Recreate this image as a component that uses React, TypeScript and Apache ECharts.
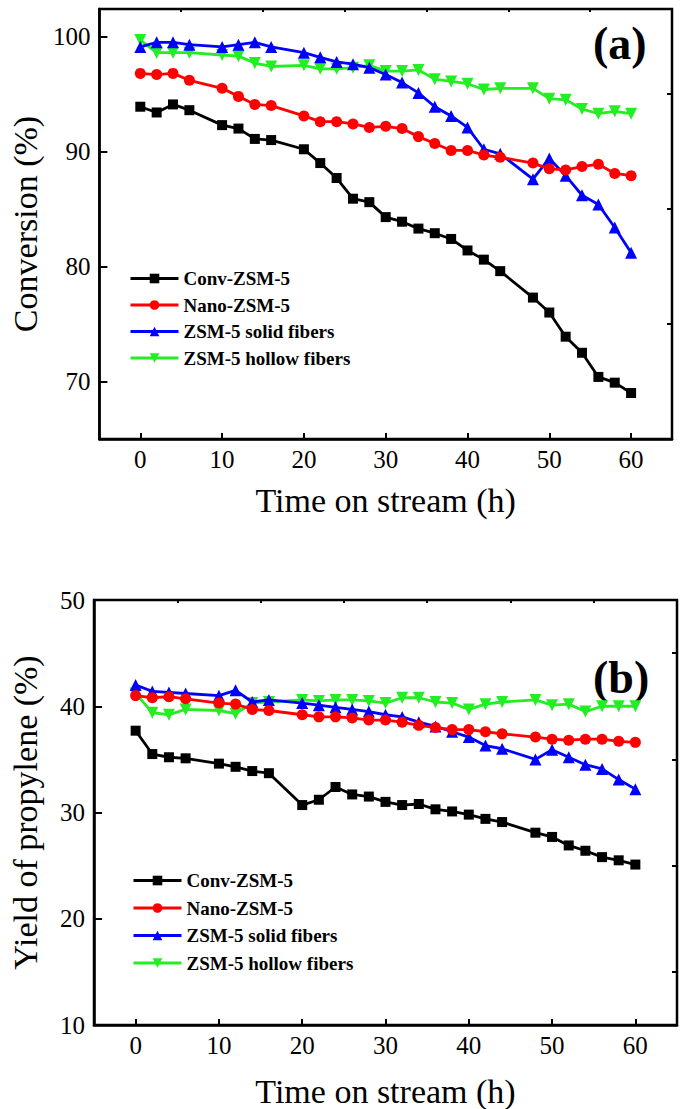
import React, { useEffect, useRef } from "react";
import * as echarts from "echarts";

const names = ["Conv-ZSM-5", "Nano-ZSM-5", "ZSM-5 solid fibers", "ZSM-5 hollow fibers"];
const time = [0, 2, 4, 6, 10, 12, 14, 16, 20, 22, 24, 26, 28, 30, 32, 34, 36, 38, 40, 42, 44, 48, 50, 52, 54, 56, 58, 60];

// (a) Conversion (%)
const convConv = [93.9, 93.4, 94.1, 93.6, 92.3, 92.0, 91.1, 91.0, 90.2, 89.0, 87.7, 85.9, 85.6, 84.3, 83.9, 83.3, 82.9, 82.4, 81.4, 80.6, 79.6, 77.3, 76.0, 73.9, 72.5, 70.4, 69.9, 69.0];
const convNano = [96.8, 96.7, 96.8, 96.2, 95.5, 94.8, 94.1, 94.0, 93.1, 92.6, 92.6, 92.4, 92.1, 92.2, 92.0, 91.3, 90.7, 90.1, 90.1, 89.7, 89.5, 89.0, 88.5, 88.4, 88.7, 88.9, 88.1, 87.9];
const convSolid = [99.1, 99.5, 99.5, 99.3, 99.1, 99.3, 99.5, 99.1, 98.6, 98.2, 97.8, 97.6, 97.3, 96.7, 96.0, 95.1, 93.9, 93.1, 92.1, 90.2, 89.8, 87.6, 89.4, 87.9, 86.2, 85.4, 83.4, 81.2];
const convHollow = [99.7, 98.6, 98.6, 98.6, 98.4, 98.3, 97.7, 97.4, 97.5, 97.2, 97.2, 97.3, 97.5, 97.0, 97.0, 97.1, 96.3, 96.1, 95.9, 95.4, 95.5, 95.5, 94.6, 94.5, 93.7, 93.3, 93.5, 93.3];

// (b) Yield of propylene (%)
const yieldConv = [37.7, 35.5, 35.2, 35.1, 34.6, 34.3, 33.9, 33.7, 30.7, 31.2, 32.4, 31.7, 31.5, 31.0, 30.7, 30.8, 30.3, 30.1, 29.8, 29.4, 29.1, 28.1, 27.7, 26.9, 26.4, 25.8, 25.5, 25.1];
const yieldNano = [41.0, 40.8, 40.9, 40.7, 40.3, 40.2, 39.7, 39.6, 39.2, 39.0, 39.0, 38.9, 38.7, 38.7, 38.5, 38.2, 38.0, 37.8, 37.8, 37.6, 37.4, 37.1, 36.9, 36.8, 36.9, 36.9, 36.7, 36.6];
const yieldSolid = [42.0, 41.4, 41.3, 41.2, 41.0, 41.5, 40.4, 40.6, 40.3, 40.1, 39.9, 39.7, 39.5, 39.2, 39.0, 38.5, 38.1, 37.6, 37.1, 36.3, 36.0, 35.0, 35.9, 35.2, 34.5, 34.1, 33.1, 32.2];
const yieldHollow = [41.2, 39.4, 39.2, 39.7, 39.6, 39.3, 40.3, 40.4, 40.6, 40.5, 40.6, 40.6, 40.5, 40.3, 40.8, 40.8, 40.4, 40.3, 39.7, 40.2, 40.4, 40.6, 40.1, 40.2, 39.5, 40.0, 40.0, 40.0];

const xMajor = [0, 10, 20, 30, 40, 50, 60];
const xMinor = [5, 15, 25, 35, 45, 55];
const yMajorA = [70, 80, 90, 100];
const yMinorA = [75, 85, 95];
const yMajorB = [10, 20, 30, 40, 50];
const yMinorB = [15, 25, 35, 45];

const colors = ["#000000", "#ff0000", "#0000ff", "#22ee22"];
const symbols = ["rect", "circle", "triangle", "triangle"];
const symbolSizes = [10, 11, 12, 12];
const rotates = [0, 0, 0, 180];

const FONT = "Liberation Serif";

function App() {
  const ref = useRef<HTMLDivElement>(null);
  useEffect(() => {
    if (!ref.current) return;
    const chart = echarts.init(ref.current, null, { renderer: "svg" });

    const grids = [
      { left: 92, top: 9, width: 580, height: 430 },
      { left: 94, top: 600, width: 583, height: 425 },
    ];

    const labelStyle = { fontFamily: FONT, fontSize: 25, color: "#000" };
    const nameStyle = { fontFamily: FONT, fontSize: 34, color: "#000" };

    const makeX = (gi: number, nameGap: number) => [
      {
        type: "value",
        gridIndex: gi,
        min: -5,
        max: 65,
        name: "Time on stream (h)",
        nameLocation: "middle",
        nameGap,
        nameTextStyle: nameStyle,
        axisLine: { show: true, onZero: false, lineStyle: { color: "#000", width: 2.5 } },
        axisTick: { show: true, inside: true, length: 6, customValues: xMajor, lineStyle: { color: "#000", width: 2 } },
        axisLabel: { ...labelStyle, margin: 8, customValues: xMajor },
        splitLine: { show: false },
      },
      {
        type: "value",
        gridIndex: gi,
        min: -5,
        max: 65,
        axisLine: { show: false, onZero: false },
        axisTick: { show: true, inside: true, length: 3, customValues: xMinor, lineStyle: { color: "#000", width: 2 } },
        axisLabel: { show: false },
        splitLine: { show: false },
      },
    ];
    const makeY = (gi: number, name: string, min: number, max: number, major: number[], minor: number[], nameGap: number) => [
      {
        type: "value",
        gridIndex: gi,
        min,
        max,
        name,
        nameLocation: "middle",
        nameGap,
        nameTextStyle: nameStyle,
        axisLine: { show: true, onZero: false, lineStyle: { color: "#000", width: 2.5 } },
        axisTick: { show: true, inside: true, length: 8, customValues: major, lineStyle: { color: "#000", width: 2 } },
        axisLabel: { ...labelStyle, margin: 9, customValues: major },
        splitLine: { show: false },
      },
      {
        type: "value",
        gridIndex: gi,
        min,
        max,
        axisLine: { show: false, onZero: false },
        axisTick: { show: true, inside: true, length: 5, customValues: minor, lineStyle: { color: "#000", width: 2 } },
        axisLabel: { show: false },
        splitLine: { show: false },
      },
    ];

    const dataA = [convConv, convNano, convSolid, convHollow];
    const dataB = [yieldConv, yieldNano, yieldSolid, yieldHollow];

    const series: any[] = [];
    [dataA, dataB].forEach((set, gi) => {
      set.forEach((vals, i) => {
        series.push({
          type: "line",
          name: names[i],
          xAxisIndex: gi * 2,
          yAxisIndex: gi * 2,
          data: time.map((t, k) => [t, vals[k]]),
          symbol: symbols[i],
          symbolSize: symbolSizes[i],
          symbolRotate: rotates[i],
          showAllSymbol: true,
          itemStyle: { color: colors[i] },
          lineStyle: { color: colors[i], width: 2.8 },
          z: 10 - i,
        });
      });
    });

    const legendBase = {
      orient: "vertical",
      itemWidth: 48,
      itemHeight: 12,
      padding: 0,
      selectedMode: false,
      textStyle: { fontFamily: FONT, fontSize: 19, fontWeight: "bold", color: "#000" },
    };
    const legendData = names.map((n, i) => ({ name: n, itemStyle: { color: colors[i] }, lineStyle: { color: colors[i], width: 3 } }));

    chart.setOption({
      animation: false,
      backgroundColor: "#fff",
      grid: grids.map((g) => ({ ...g, show: true, borderColor: "#000", borderWidth: 2.5, backgroundColor: "transparent" })),
      xAxis: [...makeX(0, 44), ...makeX(1, 49)],
      yAxis: [
        ...makeY(0, "Conversion (%)", 65, 102.4, yMajorA, yMinorA, 53),
        ...makeY(1, "Yield of propylene (%)", 10, 50, yMajorB, yMinorB, 52),
      ],
      legend: [
        { ...legendBase, left: 129, top: 269, itemGap: 7.5, data: legendData },
        { ...legendBase, left: 132, top: 871, itemGap: 8.5, data: legendData },
      ],
      graphic: [
        { type: "text", left: 593, top: 20, style: { text: "(a)", font: `bold 46px '${FONT}'`, fill: "#000" } },
        { type: "text", left: 593, top: 654, style: { text: "(b)", font: `bold 46px '${FONT}'`, fill: "#000" } },
      ],
      series,
    });
    return () => chart.dispose();
  }, []);
  return <div ref={ref} style={{ position: "absolute", left: 0, top: 0, width: 685, height: 1109 }} />;
}

export default App;
